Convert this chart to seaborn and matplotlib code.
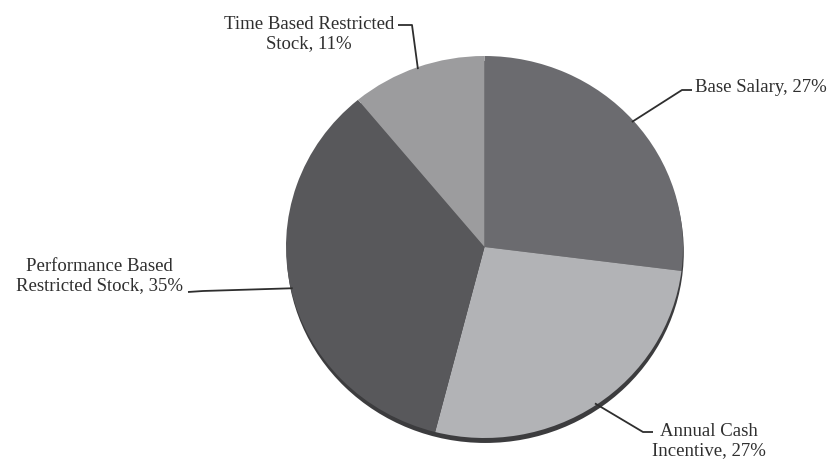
#! /usr/bin/env python3
# coding: utf-8
"""
Pie chart of the pay mix (base salary, cash incentive and stock awards).

Output:
  - out.png
"""
import numpy as np
import matplotlib
matplotlib.use('Agg')
import matplotlib.pyplot as plt
import seaborn as sb
from matplotlib.patches import Circle

# Data
categories = ['Base Salary', 'Annual Cash\nIncentive',
              'Performance Based\nRestricted Stock', 'Time Based Restricted\nStock']
shares = [27, 27, 35, 11]
colors = ['#6b6b6f', '#b2b3b6', '#58585b', '#9c9c9e']

# Layout (pixels in an 833x462 image; the pie is slightly wider than tall)
CX, CY, RX, RY = 484.5, 247, 198.5, 191
label_layout = [
    # elbow, line end, text position, horizontal alignment
    ((682, 90), (692, 90), (695, 88), 'left'),
    ((643, 432), (653, 432), (709, 441), 'center'),
    ((203, 291), (188, 292), (99, 276), 'center'),
    ((412, 25), (398, 25), (309, 34), 'center'),
]


def to_data(p):
    return (p[0] - CX) / RX, (CY - p[1]) / RY


if __name__ == '__main__':
    sb.set_theme(style='white')
    plt.rcParams['font.family'] = ['Liberation Serif', 'DejaVu Serif']

    fig = plt.figure(figsize=(8.33, 4.62), dpi=100)
    ax = fig.add_axes([0, 0, 1, 1])

    # dark rim under the pie
    ax.add_patch(Circle((0.004, -0.026), 1.0, facecolor='#3c3c3e', edgecolor='none', zorder=0))

    wedges, _ = ax.pie(shares, colors=colors, startangle=90, counterclock=False,
                       radius=1.0, center=(0, 0), wedgeprops={'linewidth': 0})

    for w, name, value, (elbow, end, txt, ha) in zip(wedges, categories, shares, label_layout):
        theta = np.deg2rad((w.theta1 + w.theta2) / 2)
        start = (np.cos(theta) * 0.99, np.sin(theta) * 0.99)
        ex, ey = to_data(elbow)
        lx, ly = to_data(end)
        ax.plot([start[0], ex, lx], [start[1], ey, ly], color='#2e2e2e', linewidth=1.3,
                solid_capstyle='butt', zorder=3)
        tx, ty = to_data(txt)
        ax.text(tx, ty, f'{name}, {value}%', ha=ha, va='center', fontsize=13.5,
                color='#2f2f2f', linespacing=1.2, multialignment='center')

    ax.set_xlim(-CX / RX, (833 - CX) / RX)
    ax.set_ylim((CY - 462) / RY, CY / RY)
    ax.set_aspect('auto')
    ax.axis('off')

    fig.savefig('out.png', dpi=100)
